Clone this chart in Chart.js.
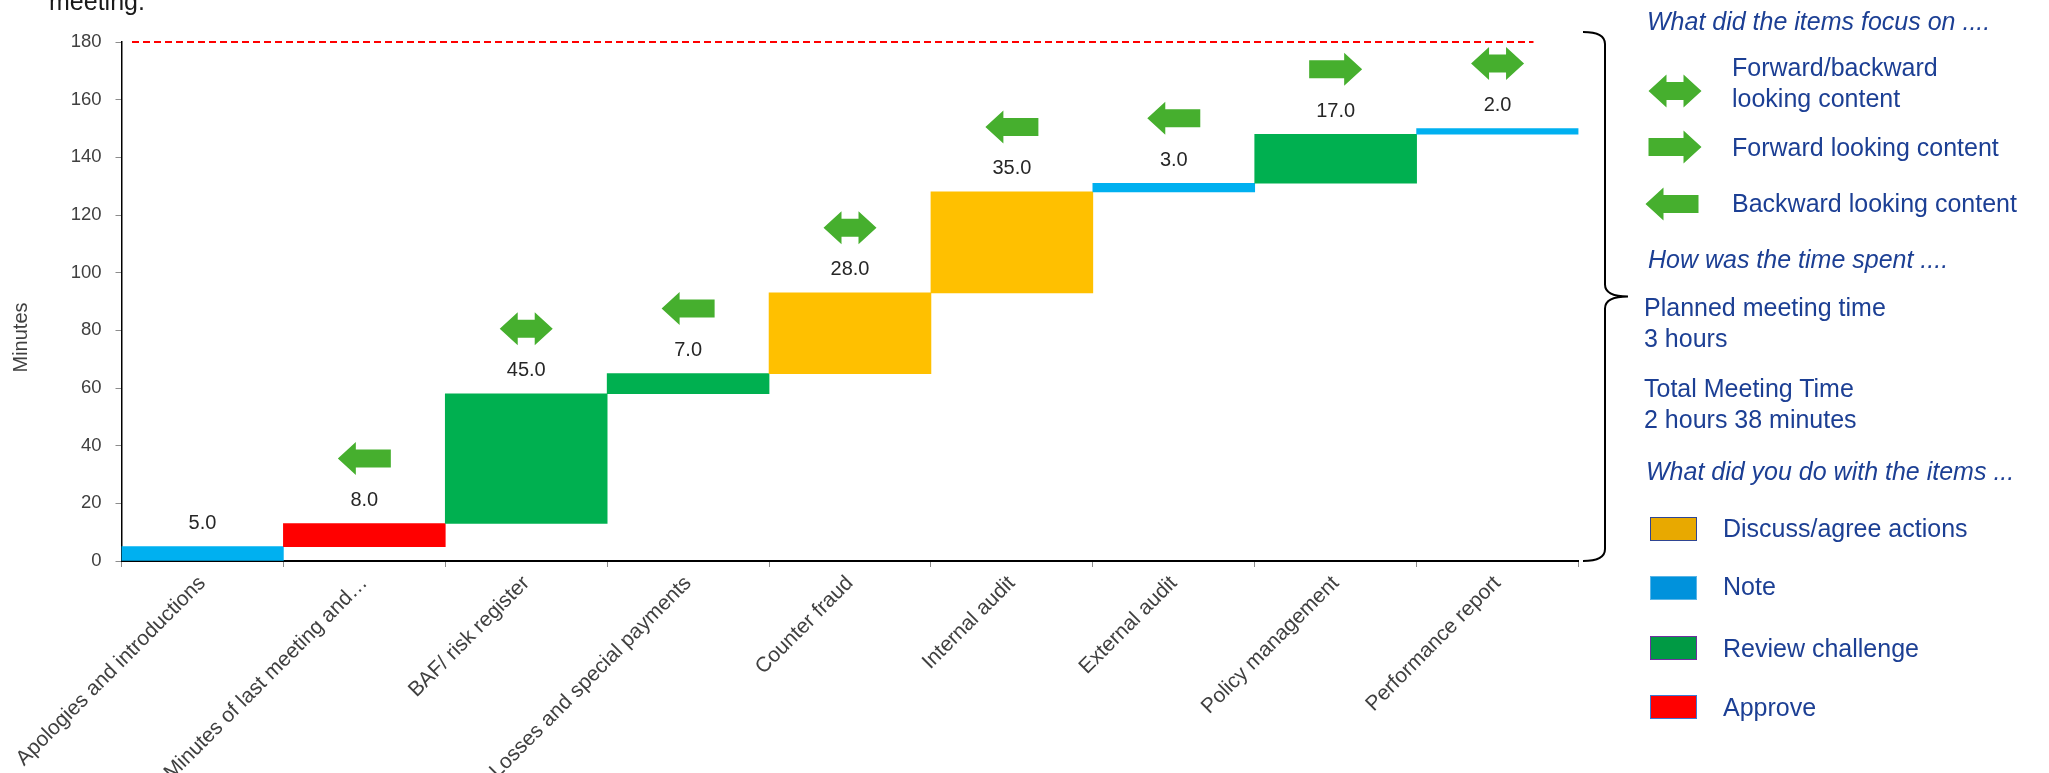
<!DOCTYPE html>
<html>
<head>
<meta charset="utf-8">
<script src="https://cdn.jsdelivr.net/npm/chart.js@4.4.1/dist/chart.umd.min.js"></script>
<style>
  html, body { margin: 0; padding: 0; background: #fff; }
  body { width: 2049px; height: 773px; position: relative; overflow: hidden; font-family: "Liberation Sans", Arial, sans-serif; }
  #chart { position: absolute; left: 0; top: 0; }
  .title { position: absolute; left: 49px; top: -11px; font-size: 25px; line-height: 25px; color: #1a1a1a; white-space: nowrap; }
  .key { position: absolute; color: #1c3f94; font-size: 25px; line-height: 30px; white-space: nowrap; }
  .key.head { font-style: italic; }
  .swatch { position: absolute; left: 1650px; width: 45px; height: 22px; border: 1.5px solid; }
  .arrow { position: absolute; }
</style>
</head>
<body>
<canvas id="chart" width="2049" height="773"></canvas>
<div class="title">meeting.</div>

<div class="key head" style="left:1647px; top:6px">What did the items focus on ....</div>
<canvas class="arrow" id="key-both" width="60" height="40" style="left:1645px; top:71px"></canvas>
<div class="key" style="left:1732px; top:52px">Forward/backward</div>
<div class="key" style="left:1732px; top:83px">looking content</div>
<canvas class="arrow" id="key-forward" width="60" height="40" style="left:1645px; top:127px"></canvas>
<div class="key" style="left:1732px; top:132px">Forward looking content</div>
<canvas class="arrow" id="key-backward" width="60" height="40" style="left:1642px; top:184px"></canvas>
<div class="key" style="left:1732px; top:188px">Backward looking content</div>

<div class="key head" style="left:1648px; top:244px">How was the time spent ....</div>
<div class="key" style="left:1644px; top:292px">Planned meeting time</div>
<div class="key" style="left:1644px; top:323px">3 hours</div>
<div class="key" style="left:1644px; top:373px">Total Meeting Time</div>
<div class="key" style="left:1644px; top:404px">2 hours 38 minutes</div>

<div class="key head" style="left:1646px; top:456px">What did you do with the items ...</div>
<div class="swatch" style="top:517px; background:#e8a900; border-color:#2f4592"></div>
<div class="key" style="left:1723px; top:513px">Discuss/agree actions</div>
<div class="swatch" style="top:576px; background:#0092dc; border-color:#5ab4e6"></div>
<div class="key" style="left:1723px; top:571px">Note</div>
<div class="swatch" style="top:636px; background:#009a44; border-color:#70309f"></div>
<div class="key" style="left:1723px; top:633px">Review challenge</div>
<div class="swatch" style="top:695px; background:#ff0000; border-color:#3a7bd5"></div>
<div class="key" style="left:1723px; top:692px">Approve</div>

<script>
// agenda items and minutes spent on each
const categories = [
  "Apologies and introductions",
  "Minutes of last meeting and\u2026",
  "BAF/ risk register",
  "Losses and special payments",
  "Counter fraud",
  "Internal audit",
  "External audit",
  "Policy management",
  "Performance report"
];
const minutes = [5, 8, 45, 7, 28, 35, 3, 17, 2];
const actions = ["Note", "Approve", "Review challenge", "Review challenge",
  "Discuss/agree actions", "Discuss/agree actions", "Note", "Review challenge", "Note"];
const focus = ["", "backward", "both", "backward", "both", "backward", "backward", "forward", "both"];
const yTicks = [0, 20, 40, 60, 80, 100, 120, 140, 160, 180];
const plannedMinutes = 180;
const yTitle = "Minutes";

const actionColours = {
  "Discuss/agree actions": "#ffc000",
  "Note": "#00b0f0",
  "Review challenge": "#00b050",
  "Approve": "#ff0000"
};
const arrowColour = "#46af2e";
const fontFamily = '"Liberation Sans", Arial, sans-serif';

// running total -> floating [start, end] bars
let running = 0;
const steps = minutes.map(m => {
  const step = [running, running + m];
  running += m;
  return step;
});

function drawArrow(ctx, type, cx, cy) {
  const w = 53, h = 33, sh = 18, head = 18;
  const l = cx - w / 2, r = cx + w / 2;
  let pts;
  if (type === "both") {
    pts = [[l, cy], [l + head, cy - h / 2], [l + head, cy - sh / 2], [r - head, cy - sh / 2],
      [r - head, cy - h / 2], [r, cy], [r - head, cy + h / 2], [r - head, cy + sh / 2],
      [l + head, cy + sh / 2], [l + head, cy + h / 2]];
  } else if (type === "forward") {
    pts = [[l, cy - sh / 2], [r - head, cy - sh / 2], [r - head, cy - h / 2], [r, cy],
      [r - head, cy + h / 2], [r - head, cy + sh / 2], [l, cy + sh / 2]];
  } else {
    pts = [[r, cy - sh / 2], [l + head, cy - sh / 2], [l + head, cy - h / 2], [l, cy],
      [l + head, cy + h / 2], [l + head, cy + sh / 2], [r, cy + sh / 2]];
  }
  ctx.save();
  ctx.fillStyle = arrowColour;
  ctx.beginPath();
  pts.forEach((p, i) => i ? ctx.lineTo(p[0], p[1]) : ctx.moveTo(p[0], p[1]));
  ctx.closePath();
  ctx.fill();
  ctx.restore();
}

// planned-time line, value labels, focus arrows, axis title and the bracket
const stepAnnotations = {
  id: "stepAnnotations",
  afterDatasetsDraw(chart) {
    const ctx = chart.ctx;
    const area = chart.chartArea;
    const py = chart.scales.y.getPixelForValue(plannedMinutes);

    ctx.save();
    ctx.strokeStyle = "#ff0000";
    ctx.lineWidth = 2;
    ctx.setLineDash([7, 4]);
    ctx.beginPath();
    ctx.moveTo(area.left + 10.5, py);
    ctx.lineTo(area.right - 45, py);
    ctx.stroke();
    ctx.restore();

    const meta = chart.getDatasetMeta(0);
    ctx.save();
    ctx.font = "20px " + fontFamily;
    ctx.fillStyle = "#262626";
    ctx.textAlign = "center";
    ctx.textBaseline = "middle";
    meta.data.forEach((bar, i) => {
      const top = Math.min(bar.y, bar.base);
      ctx.fillText(minutes[i].toFixed(1), bar.x, top - 23);
      if (focus[i]) drawArrow(ctx, focus[i], bar.x, top - 65);
    });
    ctx.restore();

    // y axis title, sitting a little below the middle of the plot
    ctx.save();
    ctx.font = "20px " + fontFamily;
    ctx.fillStyle = "#404040";
    ctx.textAlign = "center";
    ctx.textBaseline = "middle";
    ctx.translate(21, (area.top + area.bottom) / 2 + 36);
    ctx.rotate(-Math.PI / 2);
    ctx.fillText(yTitle, 0, 0);
    ctx.restore();

    // curly bracket spanning the plot height
    const x0 = area.right + 4.5, xv = area.right + 26.5, xt = area.right + 49.5;
    const yTop = area.top - 10, yBot = area.bottom, yMid = (yTop + yBot) / 2;
    ctx.save();
    ctx.strokeStyle = "#000";
    ctx.lineWidth = 2;
    ctx.beginPath();
    ctx.moveTo(x0, yTop);
    ctx.quadraticCurveTo(xv, yTop, xv, yTop + 12);
    ctx.lineTo(xv, yMid - 12);
    ctx.quadraticCurveTo(xv, yMid, xt, yMid);
    ctx.moveTo(xt, yMid);
    ctx.quadraticCurveTo(xv, yMid, xv, yMid + 12);
    ctx.lineTo(xv, yBot - 12);
    ctx.quadraticCurveTo(xv, yBot, x0, yBot);
    ctx.stroke();
    ctx.restore();
  }
};

new Chart(document.getElementById("chart"), {
  type: "bar",
  data: {
    labels: categories,
    datasets: [{
      data: steps,
      backgroundColor: actions.map(a => actionColours[a]),
      barPercentage: 1,
      categoryPercentage: 1,
      borderWidth: 0
    }]
  },
  options: {
    responsive: false,
    animation: false,
    layout: { padding: { left: 0, top: 42, right: 470.5, bottom: 0 } },
    plugins: {
      legend: { display: false },
      tooltip: { enabled: false }
    },
    scales: {
      x: {
        grid: { drawOnChartArea: false, offset: true, color: "#8c8c8c", tickLength: 6 },
        border: { color: "#000", width: 2 },
        ticks: {
          autoSkip: false,
          minRotation: 45,
          maxRotation: 45,
          padding: 4,
          color: "#404040",
          font: { family: fontFamily, size: 21 }
        },
        afterFit: s => { s.height = 212; }
      },
      y: {
        min: 0,
        max: 180,
        afterBuildTicks: s => { s.ticks = yTicks.map(v => ({ value: v })); },
        grid: { drawOnChartArea: false, color: "#8c8c8c", tickLength: 6 },
        border: { color: "#000", width: 1.5 },
        ticks: { padding: 14, color: "#404040", font: { family: fontFamily, size: 18.5 } },
        afterFit: s => { s.width = 121.5; }
      }
    }
  },
  plugins: [stepAnnotations]
});

// legend arrows
[["key-both", "both"], ["key-forward", "forward"], ["key-backward", "backward"]].forEach(([id, type]) => {
  const c = document.getElementById(id);
  drawArrow(c.getContext("2d"), type, 30, 20);
});
</script>
</body>
</html>
